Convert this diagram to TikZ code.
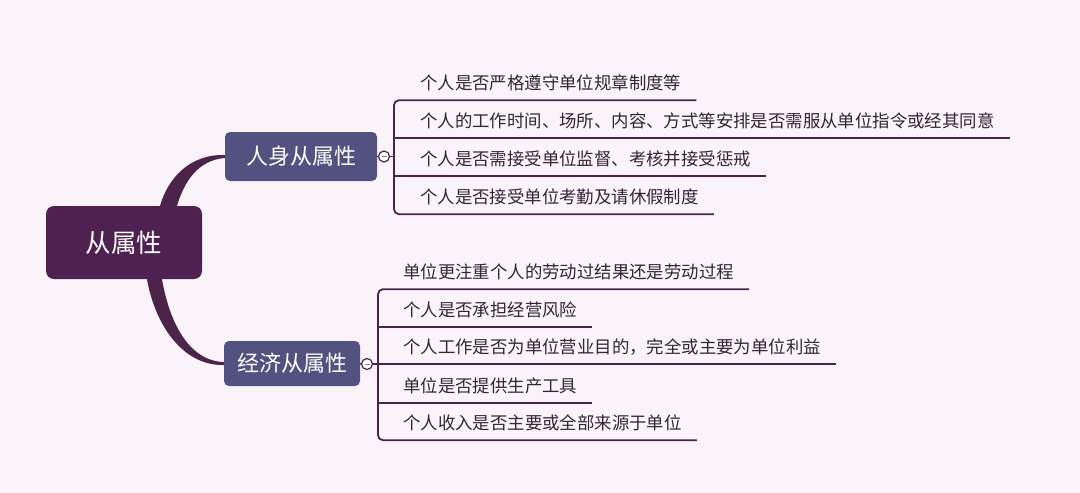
\documentclass[tikz,border=0pt]{standalone}
\usepackage{fontspec}
\setmainfont{Noto Sans CJK SC}
\definecolor{bg}{RGB}{250,244,250}
\definecolor{rootc}{RGB}{79,33,80}
\definecolor{branchc}{RGB}{82,81,128}
\definecolor{linec}{RGB}{76,36,74}
\definecolor{textc}{RGB}{52,36,54}
\tikzset{
  rootbox/.style={fill=rootc, rounded corners=8pt, text=white, inner sep=0pt,
    font=\fontsize{25.5}{25.5}\selectfont},
  branchbox/.style={fill=branchc, rounded corners=5pt, text=white, inner sep=0pt,
    font=\fontsize{22}{22}\selectfont},
  itembox/.style={anchor=west, inner sep=0pt, minimum height=34pt, text=textc,
    font=\fontsize{17.4}{17.4}\selectfont},
  collapse/.style={circle, draw=linec, fill=white, line width=1.2pt, minimum size=11pt, inner sep=0pt},
  brline/.style={draw=linec, line width=1.8pt},
}
\begin{document}
\begin{tikzpicture}[x=1pt,y=-1pt]
\fill[bg] (0,0) rectangle (1080,493);
\useasboundingbox (0,0) rectangle (1080,493);

% nodes
\node[rootbox, minimum width=156pt, minimum height=73pt] (root) at (124,242.5) {从属性};
\node[branchbox, minimum width=152pt, minimum height=49pt] (b1) at (301,156.5) {人身从属性};
\node[branchbox, minimum width=136pt, minimum height=45pt] (b2) at (292,363.5) {经济从属性};

% tapered connectors
\fill[linec] ([xshift=36pt]root.north) .. controls (168,178) and (190,154) .. ([yshift=1.5pt]b1.west)
  -- ([yshift=-1.5pt]b1.west) .. controls (198,160) and (184,182) .. ([xshift=53pt]root.north) -- cycle;
\fill[linec] ([xshift=23pt]root.south) .. controls (155,325) and (183,366) .. ([yshift=-1.5pt]b2.west)
  -- ([yshift=1.5pt]b2.west) .. controls (190,361) and (170,325) .. ([xshift=38pt]root.south) -- cycle;

% collapse circles
\node[collapse] (c1) at (384,156.5) {};
\node[collapse] (c2) at (367,364) {};
\draw[gray, line width=0.8pt] ([xshift=-2.5pt]c1.center) -- ([xshift=2.5pt]c1.center);
\draw[gray, line width=0.8pt] ([xshift=-2.5pt]c2.center) -- ([xshift=2.5pt]c2.center);
\draw[brline] (b1.east) -- (c1.west);
\draw[brline] (b2.east) -- (c2.west);

% branch 1 items
\node[itembox] (i11) at (420,83) {个人是否严格遵守单位规章制度等};
\node[itembox] (i12) at (420,121) {个人的工作时间、场所、内容、方式等安排是否需服从单位指令或经其同意};
\node[itembox] (i13) at (420,159) {个人是否需接受单位监督、考核并接受惩戒};
\node[itembox] (i14) at (420,197) {个人是否接受单位考勤及请休假制度};
\coordinate (v1) at (394,156.5);
\draw[brline] (c1.east) -- (v1);
\draw[brline, rounded corners=5pt] ([xshift=15pt]i11.south east) -- (i11.south -| v1) -- (i14.south -| v1) -- ([xshift=15pt]i14.south east);
\draw[brline] (i12.south -| v1) -- ([xshift=15pt]i12.south east);
\draw[brline] (i13.south -| v1) -- ([xshift=15pt]i13.south east);

% branch 2 items
\node[itembox] (i21) at (403,272) {单位更注重个人的劳动过结果还是劳动过程};
\node[itembox] (i22) at (403,309.5) {个人是否承担经营风险};
\node[itembox] (i23) at (403,347) {个人工作是否为单位营业目的，完全或主要为单位利益};
\node[itembox] (i24) at (403,385.5) {单位是否提供生产工具};
\node[itembox] (i25) at (403,423) {个人收入是否主要或全部来源于单位};
\coordinate (v2) at (378,364);
\draw[brline] (c2.east) -- (v2);
\draw[brline, rounded corners=5pt] ([xshift=15pt]i21.south east) -- (i21.south -| v2) -- (i25.south -| v2) -- ([xshift=15pt]i25.south east);
\draw[brline] (i22.south -| v2) -- ([xshift=15pt]i22.south east);
\draw[brline] (i23.south -| v2) -- ([xshift=15pt]i23.south east);
\draw[brline] (i24.south -| v2) -- ([xshift=15pt]i24.south east);
\end{tikzpicture}
\end{document}
